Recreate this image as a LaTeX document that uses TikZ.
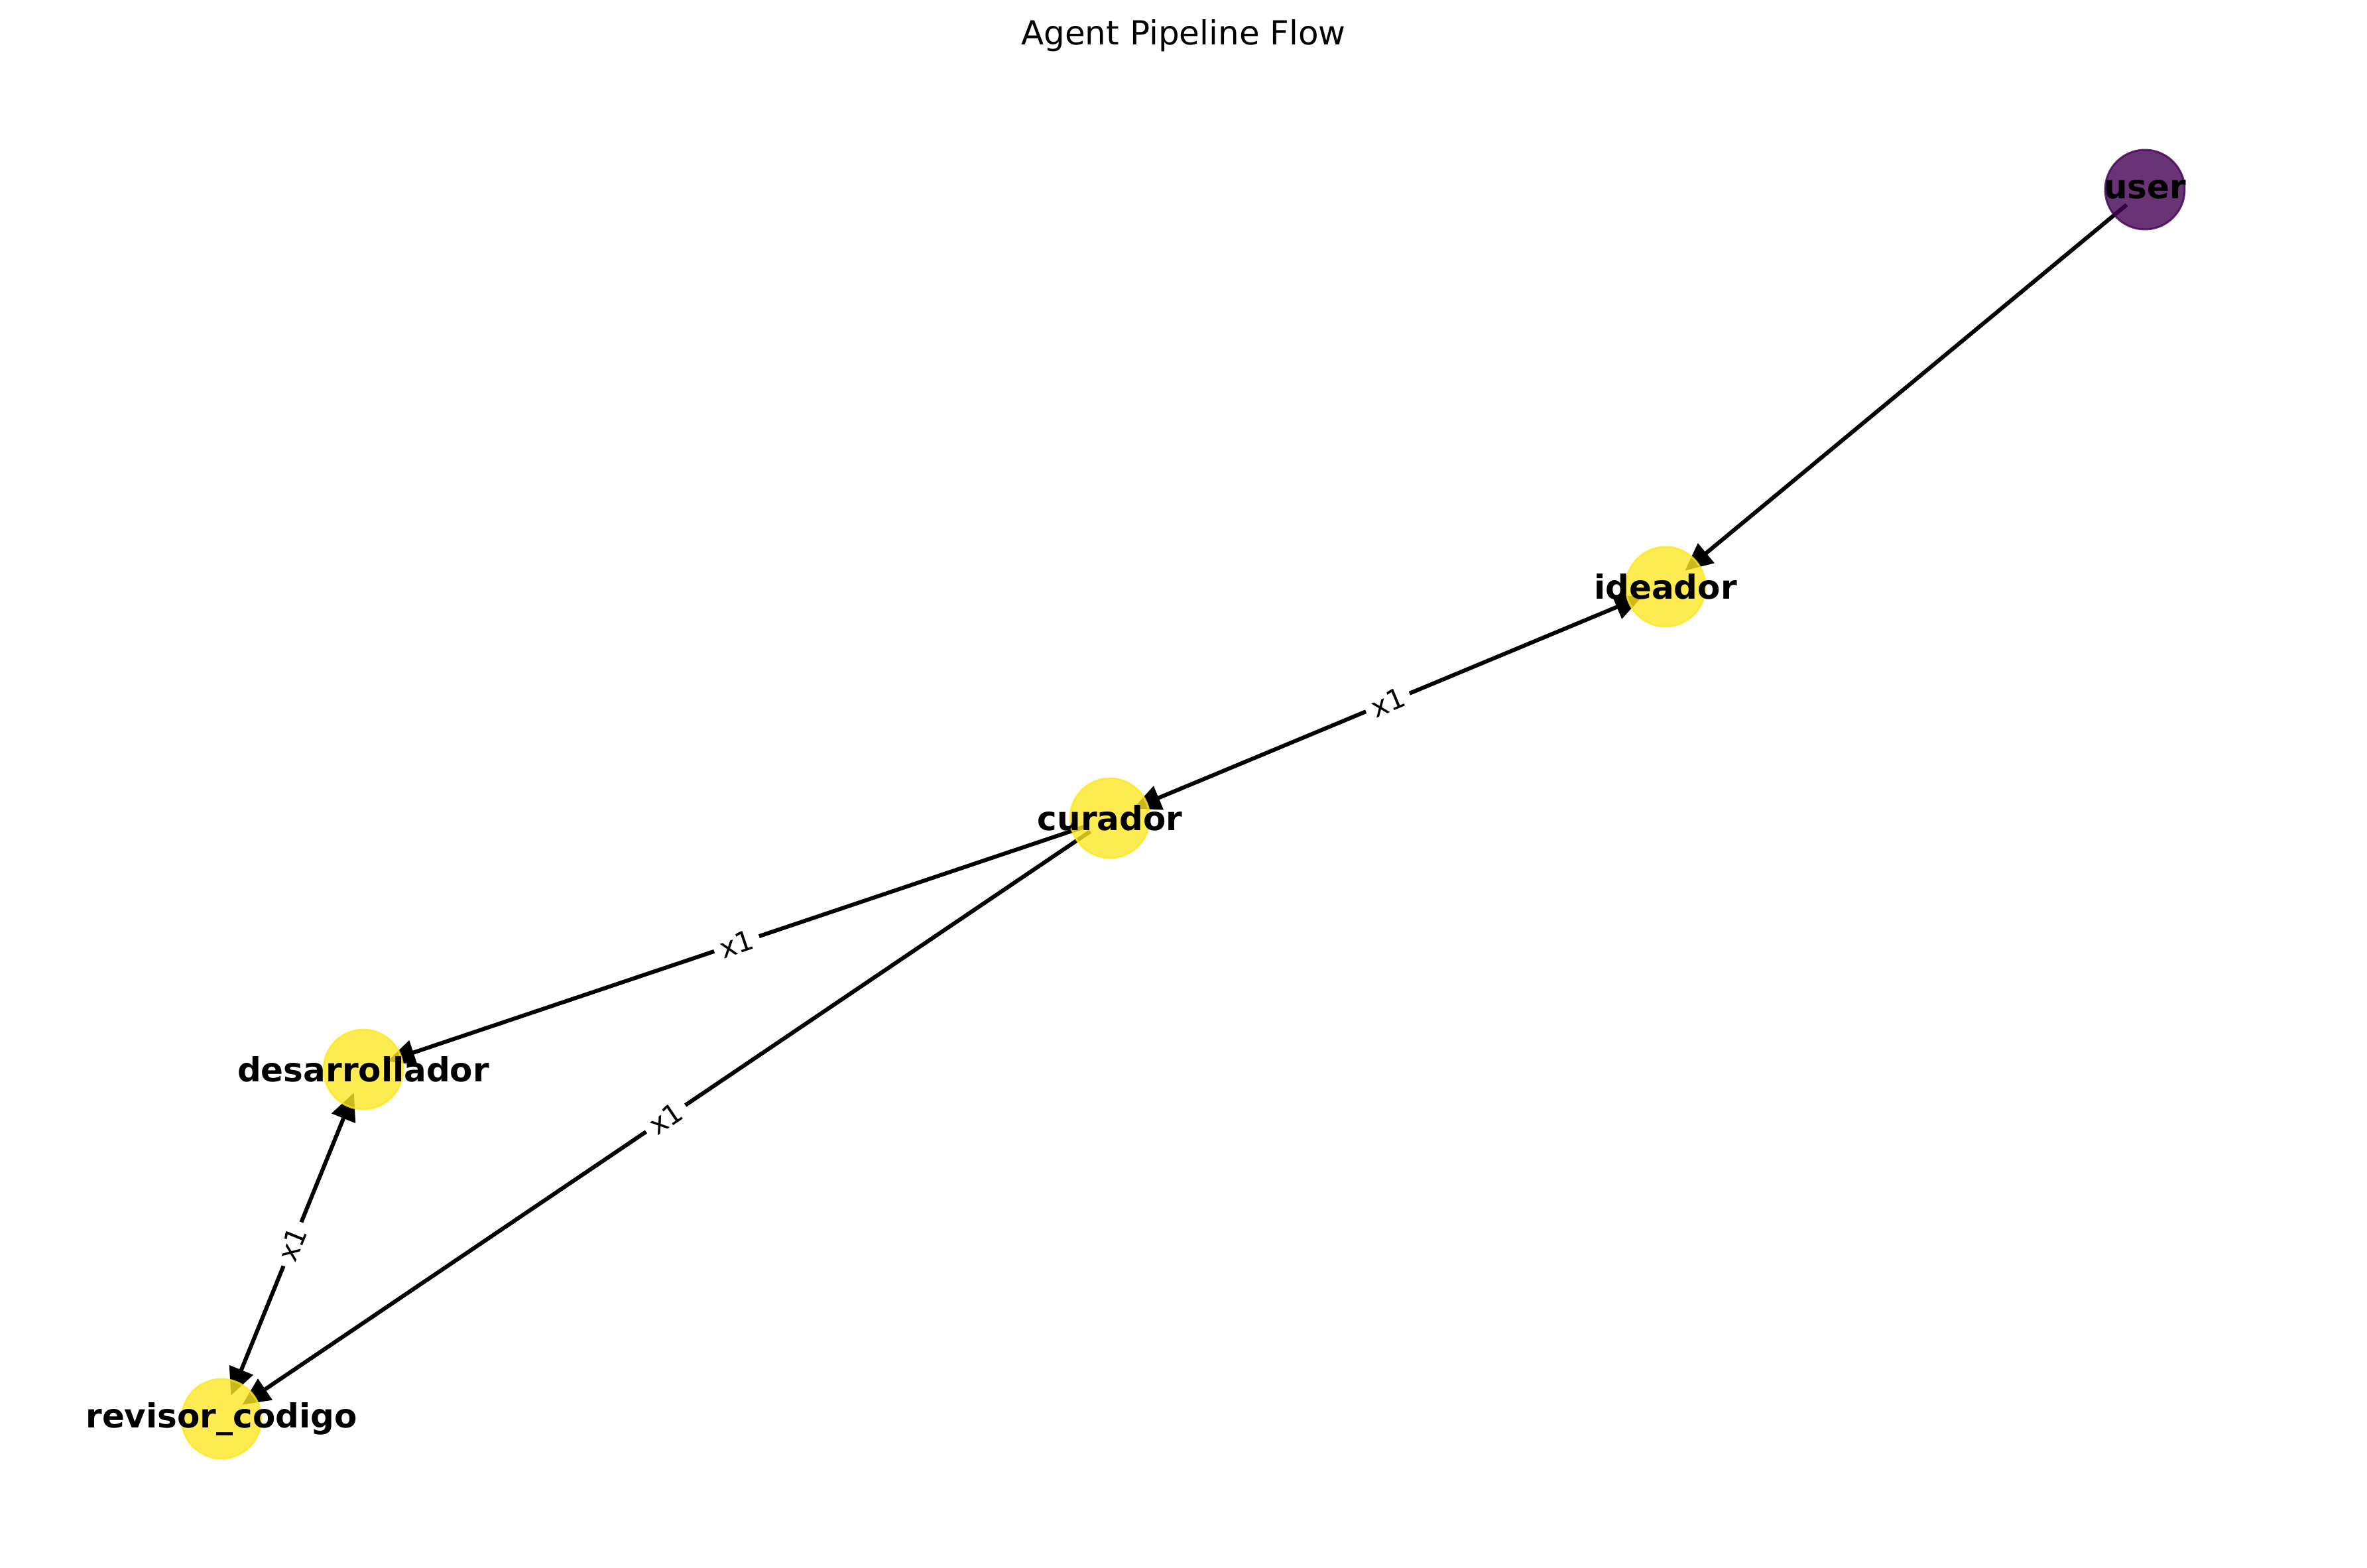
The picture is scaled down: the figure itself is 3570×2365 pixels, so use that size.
\documentclass[tikz,border=0pt]{standalone}
\usepackage{fontspec}
\setmainfont{DejaVu Sans}
\usetikzlibrary{arrows.meta}
\definecolor{vyel}{HTML}{FDE725}
\definecolor{vpur}{HTML}{440154}
\pgfdeclarelayer{bg}
\pgfsetlayers{bg,main}
\begin{document}
\begin{tikzpicture}[x=0.24pt,y=-0.24pt,
  agent/.style={circle, minimum size=28.8pt, inner sep=0pt, fill=#1, fill opacity=0.8, draw=#1, draw opacity=0.8, line width=0.7pt},
  nlabel/.style={inner sep=0pt, font=\bfseries\fontsize{12}{14}\selectfont},
  flow/.style={line width=1.45pt, shorten <=8.6pt, shorten >=9.1pt, -{Triangle[length=10pt,width=9pt]}},
  bflow/.style={line width=1.45pt, shorten <=9.1pt, shorten >=9.1pt, {Triangle[length=10pt,width=9pt]}-{Triangle[length=10pt,width=9pt]}},
  elabel/.style={midway, sloped, fill=white, inner sep=2.4pt, font=\fontsize{10}{12}\selectfont}]
\useasboundingbox (0,0) rectangle (3570,2365);
\node[anchor=base, font=\fontsize{12}{14}\selectfont] (title) at (1785,68) {Agent Pipeline Flow};
% nodes
\node[agent=vpur] (u) at (3235,286) {};
\node[agent=vyel] (i) at (2512,885) {};
\node[agent=vyel] (c) at (1674,1234) {};
\node[agent=vyel] (d) at (548,1613) {};
\node[agent=vyel] (r) at (334,2140) {};
\node[nlabel] (ul) at (u) {user};
\node[nlabel] (il) at (i) {ideador};
\node[nlabel] (cl) at (c) {curador};
\node[nlabel] (dl) at (d) {desarrollador};
\node[nlabel] (rl) at (r) {revisor\_codigo};
% edges
\begin{pgfonlayer}{bg}
\draw[flow] (u.center) -- (i.center);
\draw[bflow] (c.center) -- node[elabel] (e1) {x1} (i.center);
\draw[flow] (c.center) -- node[elabel] (e2) {x1} (d.center);
\draw[flow] (c.center) -- node[elabel] (e3) {x1} (r.center);
\draw[bflow] (d.center) -- node[elabel] (e4) {x1} (r.center);
\end{pgfonlayer}
\end{tikzpicture}
\end{document}
